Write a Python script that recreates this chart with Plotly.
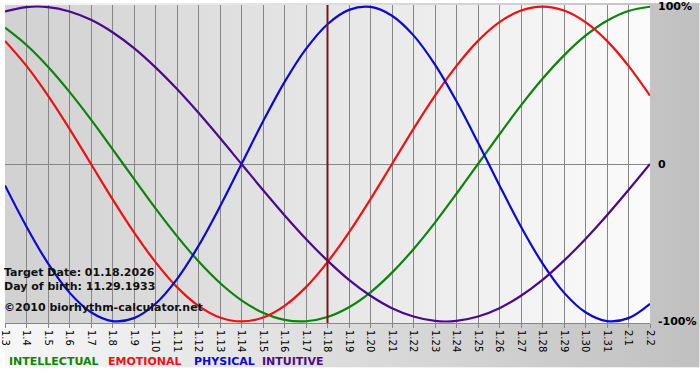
import base64
import plotly.graph_objects as go

# ---------------- data ----------------
dates = ["1.3", "1.4", "1.5", "1.6", "1.7", "1.8", "1.9", "1.10", "1.11", "1.12",
         "1.13", "1.14", "1.15", "1.16", "1.17", "1.18", "1.19", "1.20", "1.21", "1.22",
         "1.23", "1.24", "1.25", "1.26", "1.27", "1.28", "1.29", "1.30", "1.31", "2.1", "2.2"]

physical = [-0.136, -0.398, -0.631, -0.817, -0.942, -0.998, -0.979, -0.888, -0.731, -0.520,
            -0.270, 0.0, 0.270, 0.520, 0.731, 0.888, 0.979, 0.998, 0.942, 0.817,
            0.631, 0.398, 0.136, -0.136, -0.398, -0.631, -0.817, -0.942, -0.998, -0.979, -0.888]

emotional = [0.782, 0.623, 0.434, 0.223, 0.0, -0.223, -0.434, -0.623, -0.782, -0.901,
             -0.975, -1.0, -0.975, -0.901, -0.782, -0.623, -0.434, -0.223, 0.0, 0.223,
             0.434, 0.623, 0.782, 0.901, 0.975, 1.0, 0.975, 0.901, 0.782, 0.623, 0.434]

intellectual = [0.866, 0.756, 0.618, 0.458, 0.282, 0.095, -0.095, -0.282, -0.458, -0.618,
                -0.756, -0.866, -0.945, -0.990, -0.999, -0.972, -0.910, -0.815, -0.690, -0.541,
                -0.372, -0.189, 0.0, 0.189, 0.372, 0.541, 0.690, 0.815, 0.910, 0.972, 0.999]

intuitive = [0.969, 0.997, 0.997, 0.969, 0.916, 0.837, 0.736, 0.614, 0.476, 0.325,
             0.165, 0.0, -0.165, -0.325, -0.476, -0.614, -0.736, -0.837, -0.916, -0.969,
             -0.997, -0.997, -0.969, -0.916, -0.837, -0.736, -0.614, -0.476, -0.325, -0.165, 0.0]

target_day = "1.18"
y_tickvals = [1, 0, -1]
y_ticktext = ["100%", "0", "-100%"]
info_lines = ["Target Date: 01.18.2026", "Day of birth: 11.29.1933", "©2010 biorhythm-calculator.net"]

series = [
    ("INTELLECTUAL", intellectual, "#0c840c"),
    ("EMOTIONAL", emotional, "#ee1111"),
    ("PHYSICAL", physical, "#0a0ad8"),
    ("INTUITIVE", intuitive, "#4a0a8a"),
]

# ---------------- layout constants ----------------
W, H = 700, 380
ML, MR, MT, MB = 0, 50, 2, 57
PW = W - ML - MR
PH = H - MT - MB
FONT = "DejaVu Sans"


def px_to_paper_y(p):
    return (H - MB - p) / PH


def px_to_paper_x(p):
    return (p - ML) / PW


def grad_uri(c0, c1):
    svg = ('<svg xmlns="http://www.w3.org/2000/svg" width="100" height="100" '
           'viewBox="0 0 100 100" preserveAspectRatio="none">'
           '<defs><linearGradient id="g" x1="0" y1="0" x2="1" y2="0">'
           f'<stop offset="0" stop-color="{c0}"/><stop offset="1" stop-color="{c1}"/>'
           '</linearGradient></defs><rect width="100" height="100" fill="url(#g)"/></svg>')
    return "data:image/svg+xml;base64," + base64.b64encode(svg.encode()).decode()


fig = go.Figure()
for name, vals, color in series:
    fig.add_trace(go.Scatter(x=dates, y=vals, mode="lines", name=name,
                             line=dict(color=color, width=2.2, shape="spline", smoothing=1.0),
                             hoverinfo="skip"))

# target date marker
ti = dates.index(target_day)
fig.add_shape(type="line", xref="x", yref="paper", x0=ti, x1=ti, y0=0, y1=1,
              line=dict(color="#7a1616", width=2), layer="above")

images = [
    dict(source=grad_uri("#f7f7f7", "#c0c0c0"), xref="paper", yref="paper",
         x=px_to_paper_x(0), y=px_to_paper_y(0), sizex=W / PW,
         sizey=px_to_paper_y(0) - px_to_paper_y(368),
         xanchor="left", yanchor="top", sizing="stretch", layer="below"),
    dict(source=grad_uri("#d1d1d1", "#fbfbfb"), xref="paper", yref="paper",
         x=0, y=1, sizex=1, sizey=1, xanchor="left", yanchor="top",
         sizing="stretch", layer="below"),
]

annotations = []
info_y = [272, 286, 307]
for txt, py in zip(info_lines, info_y):
    annotations.append(dict(text=txt, xref="paper", yref="paper",
                            x=px_to_paper_x(-3), y=px_to_paper_y(py),
                            xanchor="left", yanchor="middle", showarrow=False,
                            font=dict(family=FONT, size=11, color="#111111", weight="bold")))

legend_x = [2, 102, 188, 257]
for (name, _, color), lx in zip(series, legend_x):
    annotations.append(dict(text=name, xref="paper", yref="paper",
                            x=px_to_paper_x(lx), y=px_to_paper_y(362),
                            xanchor="left", yanchor="middle", showarrow=False,
                            font=dict(family=FONT, size=11, color=color, weight="bold")))

fig.update_layout(
    width=W, height=H,
    margin=dict(l=ML, r=MR, t=MT, b=MB, pad=0),
    paper_bgcolor="white", plot_bgcolor="#e6e6e6",
    showlegend=False,
    images=images,
    annotations=annotations,
    font=dict(family=FONT, color="black"),
)

fig.update_xaxes(type="category", range=[0, len(dates) - 1],
                 showgrid=True, gridcolor="#868686", gridwidth=1,
                 showline=True, linecolor="#868686", linewidth=1,
                 ticks="outside", ticklen=4, tickcolor="#868686",
                 tickangle=90, tickfont=dict(family=FONT, size=10, color="black"),
                 zeroline=False, fixedrange=True)

fig.update_yaxes(range=[-1.01, 1.01], side="right",
                 showgrid=False, zeroline=True, zerolinecolor="#868686", zerolinewidth=1,
                 tickvals=y_tickvals, ticktext=y_ticktext, ticks="",
                 ticklabeloverflow="allow", ticklabelstandoff=7,
                 tickfont=dict(family=FONT, size=11, color="black", weight="bold"),
                 showline=False, fixedrange=True)

fig.write_html("out.html", config={"displayModeBar": False})
